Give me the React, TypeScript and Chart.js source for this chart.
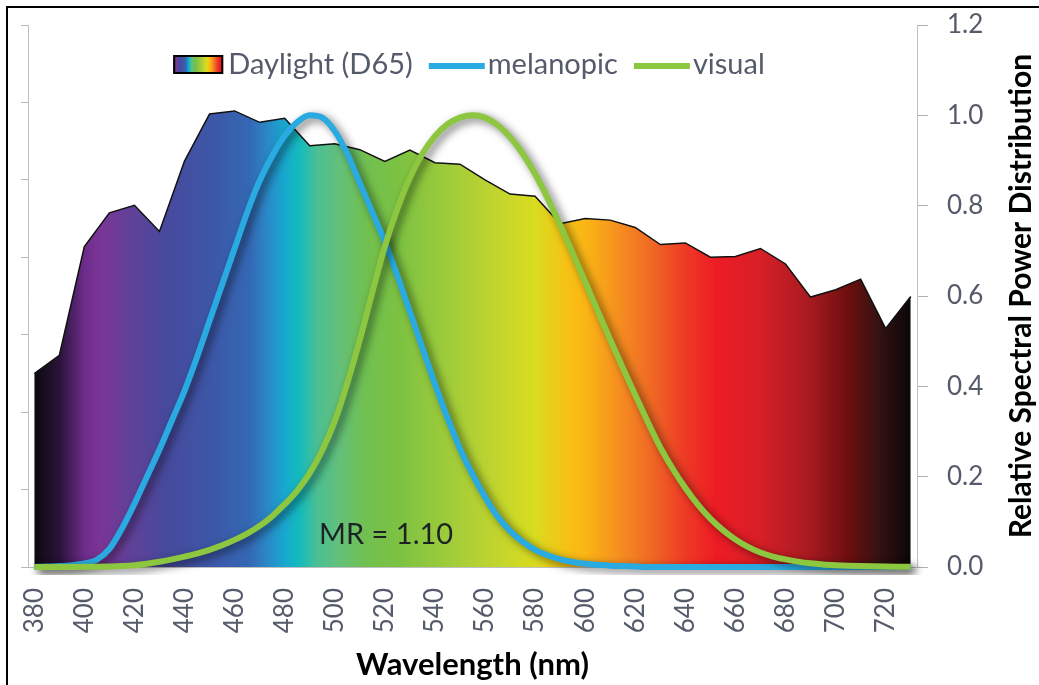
import React, { useEffect, useRef } from 'react';
import { Chart, registerables } from 'chart.js';

Chart.register(...registerables);

// ---------- data ----------
const SERIES_LABELS = ['Daylight (D65)', 'melanopic', 'visual'];

const WAVELENGTHS_10 = [
  380, 390, 400, 410, 420, 430, 440, 450, 460, 470, 480, 490, 500, 510, 520, 530, 540, 550,
  560, 570, 580, 590, 600, 610, 620, 630, 640, 650, 660, 670, 680, 690, 700, 710, 720, 730,
];

const D65 = [
  49.98, 54.65, 82.75, 91.49, 93.43, 86.68, 104.86, 117.01, 117.81, 114.86, 115.92, 108.81,
  109.35, 107.8, 104.79, 107.69, 104.41, 104.05, 100.0, 96.33, 95.79, 88.69, 90.01, 89.6,
  87.7, 83.29, 83.7, 80.03, 80.21, 82.28, 78.28, 69.72, 71.61, 74.35, 61.6, 69.89,
];

const WAVELENGTHS_5 = [
  380, 385, 390, 395, 400, 405, 410, 415, 420, 425, 430, 435, 440, 445, 450, 455, 460, 465,
  470, 475, 480, 485, 490, 495, 500, 505, 510, 515, 520, 525, 530, 535, 540, 545, 550, 555,
  560, 565, 570, 575, 580, 585, 590, 595, 600, 605, 610, 615, 620, 625, 630, 635, 640, 645,
  650, 655, 660, 665, 670, 675, 680, 685, 690, 695, 700, 705, 710, 715, 720, 725, 730,
];

const MELANOPIC = [
  0.0, 0.001, 0.002, 0.004, 0.008, 0.016, 0.04, 0.085, 0.14, 0.2, 0.26, 0.325, 0.39, 0.465,
  0.545, 0.625, 0.705, 0.785, 0.855, 0.91, 0.955, 0.985, 1.0, 0.995, 0.965, 0.915, 0.85,
  0.785, 0.72, 0.645, 0.565, 0.485, 0.405, 0.33, 0.262, 0.205, 0.155, 0.112, 0.08, 0.056,
  0.038, 0.026, 0.017, 0.011, 0.007, 0.005, 0.003, 0.002, 0.001, 0, 0, 0, 0, 0, 0, 0, 0, 0,
  0, 0, 0, 0, 0, 0, 0, 0, 0, 0, 0, 0, 0,
];

const VISUAL = [
  0.000039, 0.000064, 0.00012, 0.000217, 0.000396, 0.00064, 0.00121, 0.00218, 0.004, 0.0073,
  0.0116, 0.01684, 0.023, 0.0298, 0.038, 0.048, 0.06, 0.0739, 0.09098, 0.1126, 0.13902,
  0.1693, 0.20802, 0.2586, 0.323, 0.4073, 0.503, 0.6082, 0.71, 0.7932, 0.862, 0.91485, 0.954,
  0.9803, 0.99495, 1.0, 0.995, 0.9786, 0.952, 0.9154, 0.87, 0.8163, 0.757, 0.6949, 0.631,
  0.5668, 0.503, 0.4412, 0.381, 0.321, 0.265, 0.217, 0.175, 0.1382, 0.107, 0.0816, 0.061,
  0.04458, 0.032, 0.0232, 0.017, 0.01192, 0.00821, 0.005723, 0.004102, 0.002929, 0.002091,
  0.001484, 0.001047, 0.00074, 0.00052,
];

const X_TICKS = [380, 400, 420, 440, 460, 480, 500, 520, 540, 560, 580, 600, 620, 640, 660, 680, 700, 720];

const MR_TEXT = 'MR = 1.10';
const MR_AT = { x: 520.5, y: 0.072 };

const RIGHT_TITLE = 'Relative Spectral Power Distribution';
const X_TITLE = 'Wavelength (nm)';

// ---------- styles ----------
const FONT = 'Lato, "Open Sans", sans-serif';
const TEXT_COLOR = '#555b6a';
const AXIS_COLOR = '#c0c0c0';
const MEL_COLOR = '#29abe2';
const VIS_COLOR = '#8dc63f';

const SPECTRUM_STOPS: [number, string][] = [
  [380, '#0c0a0e'],
  [390, '#2a1238'],
  [400, '#6c2c8a'],
  [406, '#7b3596'],
  [416, '#673f98'],
  [432, '#47499c'],
  [452, '#3c58a8'],
  [466, '#3468b4'],
  [473, '#2a88c6'],
  [480, '#17a8cf'],
  [486, '#14bbbd'],
  [493, '#4cbf92'],
  [502, '#64c07a'],
  [512, '#70c050'],
  [526, '#7dc242'],
  [546, '#a0cc3a'],
  [565, '#c2d52e'],
  [580, '#d9dc1f'],
  [592, '#f5c315'],
  [600, '#fbb615'],
  [612, '#f6931e'],
  [626, '#f06a24'],
  [640, '#ee3a26'],
  [652, '#ed1c24'],
  [670, '#d81f27'],
  [690, '#a51b20'],
  [705, '#6e0e0e'],
  [716, '#3a1212'],
  [730, '#0a0808'],
];

function spectrumGradient(ctx: CanvasRenderingContext2D, x0: number, x1: number, from: number, to: number) {
  const g = ctx.createLinearGradient(x0, 0, x1, 0);
  for (const [w, c] of SPECTRUM_STOPS) {
    const t = (w - from) / (to - from);
    if (t >= 0 && t <= 1) g.addColorStop(t, c);
  }
  return g;
}

const framePlugin = {
  id: 'frame',
  beforeDraw(chart: any) {
    const ctx = chart.ctx;
    ctx.save();
    ctx.fillStyle = '#ffffff';
    ctx.fillRect(0, 0, chart.width, chart.height);
    ctx.fillStyle = '#000000';
    ctx.fillRect(6, 6, chart.width - 6, 2);
    ctx.fillRect(6, 6, 2, chart.height - 6);
    ctx.restore();
  },
};

const shadowPlugin = {
  id: 'lineShadow',
  beforeDatasetDraw(chart: any, args: any) {
    const ds = chart.data.datasets[args.index];
    if (!ds.fill) {
      const ctx = chart.ctx;
      ctx.save();
      ctx.shadowColor = 'rgba(0,0,0,0.55)';
      ctx.shadowBlur = 8;
      ctx.shadowOffsetX = 4;
      ctx.shadowOffsetY = 3;
    }
  },
  afterDatasetDraw(chart: any, args: any) {
    const ds = chart.data.datasets[args.index];
    if (!ds.fill) chart.ctx.restore();
  },
};

const overlayPlugin = {
  id: 'overlay',
  afterDraw(chart: any) {
    const ctx: CanvasRenderingContext2D = chart.ctx;
    const xs = chart.scales.x;
    const ys = chart.scales.y;
    ctx.save();

    // MR annotation
    ctx.font = `29px ${FONT}`;
    ctx.fillStyle = '#1d2324';
    ctx.textAlign = 'center';
    ctx.textBaseline = 'middle';
    ctx.fillText(MR_TEXT, xs.getPixelForValue(MR_AT.x), ys.getPixelForValue(MR_AT.y));

    // Right axis title (reads bottom to top)
    ctx.save();
    ctx.translate(1021, (chart.chartArea.top + chart.chartArea.bottom) / 2);
    ctx.rotate(-Math.PI / 2);
    ctx.font = `bold 30px ${FONT}`;
    ctx.fillStyle = '#000000';
    ctx.textAlign = 'center';
    ctx.textBaseline = 'middle';
    ctx.fillText(RIGHT_TITLE, 0, 0);
    ctx.restore();

    // Legend
    ctx.font = `29px ${FONT}`;
    ctx.textAlign = 'left';
    ctx.textBaseline = 'alphabetic';
    const datasets = chart.data.datasets;
    const items = datasets.map((ds: any) => {
      const isBox = !!ds.fill;
      return {
        ds,
        isBox,
        markerW: isBox ? 50 : 56,
        gap: isBox ? 5 : 3,
        textW: ctx.measureText(ds.label).width,
      };
    });
    const between = 16;
    const total =
      items.reduce((s: number, it: any) => s + it.markerW + it.gap + it.textW, 0) + between * (items.length - 1);
    let x = 469 - total / 2;
    for (const it of items) {
      if (it.isBox) {
        ctx.fillStyle = spectrumGradient(ctx, x, x + it.markerW, 395, 672);
        ctx.fillRect(x, 55, it.markerW, 19);
        ctx.lineWidth = 2;
        ctx.strokeStyle = '#000000';
        ctx.strokeRect(x + 1, 56, it.markerW - 2, 17);
      } else {
        ctx.strokeStyle = it.ds.borderColor;
        ctx.lineWidth = 6;
        ctx.lineCap = 'butt';
        ctx.beginPath();
        ctx.moveTo(x, 66);
        ctx.lineTo(x + it.markerW, 66);
        ctx.stroke();
      }
      x += it.markerW + it.gap;
      ctx.fillStyle = TEXT_COLOR;
      ctx.fillText(it.ds.label, x, 74);
      x += it.textW + between;
    }
    ctx.restore();
  },
};

function noPadding(scale: any) {
  scale.paddingTop = 0;
  scale.paddingBottom = 0;
  scale.paddingLeft = 0;
  scale.paddingRight = 0;
}

export default function App() {
  const canvasRef = useRef<HTMLCanvasElement | null>(null);

  useEffect(() => {
    const canvas = canvasRef.current;
    if (!canvas) return;

    const d65Points = WAVELENGTHS_10.map((w, i) => ({ x: w, y: D65[i] }));
    const melPoints = WAVELENGTHS_5.map((w, i) => ({ x: w, y: MELANOPIC[i] }));
    const visPoints = WAVELENGTHS_5.map((w, i) => ({ x: w, y: VISUAL[i] }));

    const chart = new Chart(canvas, {
      type: 'line',
      data: {
        datasets: [
          {
            label: SERIES_LABELS[0],
            data: d65Points,
            yAxisID: 'yL',
            fill: 'origin',
            order: 3,
            borderColor: '#111111',
            borderWidth: 1.5,
            pointRadius: 0,
            tension: 0,
            backgroundColor: (c: any) => {
              const ch = c.chart;
              if (!ch.chartArea) return 'rgba(0,0,0,0)';
              const first = SPECTRUM_STOPS[0][0];
              const last = SPECTRUM_STOPS[SPECTRUM_STOPS.length - 1][0];
              return spectrumGradient(
                ch.ctx,
                ch.scales.x.getPixelForValue(first),
                ch.scales.x.getPixelForValue(last),
                first,
                last
              );
            },
          },
          {
            label: SERIES_LABELS[1],
            data: melPoints,
            yAxisID: 'y',
            fill: false,
            order: 2,
            borderColor: MEL_COLOR,
            borderWidth: 6,
            pointRadius: 0,
            cubicInterpolationMode: 'monotone',
            clip: 8,
          },
          {
            label: SERIES_LABELS[2],
            data: visPoints,
            yAxisID: 'y',
            fill: false,
            order: 1,
            borderColor: VIS_COLOR,
            borderWidth: 6,
            pointRadius: 0,
            cubicInterpolationMode: 'monotone',
            clip: 8,
          },
        ] as any,
      },
      options: {
        responsive: false,
        animation: false,
        events: [],
        layout: { padding: { top: 25, left: 0, right: 0, bottom: 0 } },
        plugins: {
          legend: { display: false },
          tooltip: { enabled: false },
          title: { display: false },
        },
        scales: {
          x: {
            type: 'linear',
            min: 377.5,
            max: 732.5,
            afterBuildTicks: (scale: any) => {
              scale.ticks = X_TICKS.map((v) => ({ value: v }));
            },
            afterFit: (scale: any) => {
              scale.height = 118;
              noPadding(scale);
            },
            grid: { display: false, drawTicks: false },
            border: { display: true, color: AXIS_COLOR, width: 1 },
            ticks: {
              autoSkip: false,
              minRotation: 90,
              maxRotation: 90,
              padding: 21,
              color: TEXT_COLOR,
              font: { family: FONT, size: 26 },
              callback: (v: any) => String(v),
            },
            title: {
              display: true,
              text: X_TITLE,
              color: '#000000',
              font: { family: FONT, size: 31, weight: 'bold' },
              padding: { top: 0, bottom: 1 },
            },
          },
          yL: {
            type: 'linear',
            position: 'left',
            min: 0,
            max: 140,
            afterFit: (scale: any) => {
              scale.width = 28;
              noPadding(scale);
            },
            ticks: { stepSize: 20, padding: 0, callback: () => '' },
            grid: { display: true, drawOnChartArea: false, drawTicks: true, tickLength: 7, color: '#b8b8b8' },
            border: { display: true, color: AXIS_COLOR, width: 1 },
          },
          y: {
            type: 'linear',
            position: 'right',
            min: 0,
            max: 1.2,
            afterFit: (scale: any) => {
              scale.width = 122;
              noPadding(scale);
            },
            ticks: {
              stepSize: 0.2,
              padding: 19,
              color: TEXT_COLOR,
              font: { family: FONT, size: 26 },
              callback: (v: any) => Number(v).toFixed(1),
            },
            grid: { display: true, drawOnChartArea: false, drawTicks: true, tickLength: 11, color: '#b0b0b0' },
            border: { display: true, color: AXIS_COLOR, width: 1 },
          },
        },
      } as any,
      plugins: [framePlugin, shadowPlugin, overlayPlugin],
    });

    return () => chart.destroy();
  }, []);

  return (
    <div style={{ position: 'fixed', left: 0, top: 0, width: 1039, height: 685, background: '#fff' }}>
      <canvas ref={canvasRef} width={1039} height={685} style={{ display: 'block' }} />
    </div>
  );
}
